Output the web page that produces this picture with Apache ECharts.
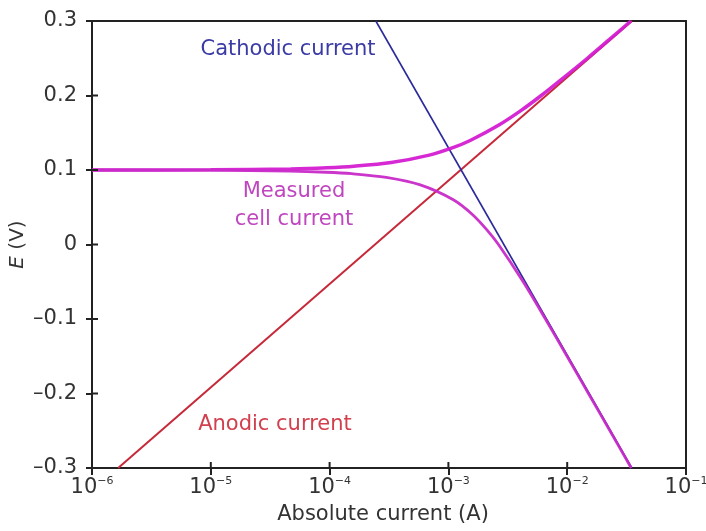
<!DOCTYPE html>
<html><head><meta charset="utf-8">
<script src="https://cdn.jsdelivr.net/npm/echarts@6/dist/echarts.min.js"></script>
<style>html,body{margin:0;padding:0;background:#fff}#c{width:706px;height:531px}</style>
</head><body><div id="c"></div>
<script>
// Tick labels / tick positions
const xTickExponents = [-6, -5, -4, -3, -2, -1];
const xTickValues = [1e-6, 1e-5, 1e-4, 1e-3, 1e-2, 1e-1];
const yTickValues = [-0.3, -0.2, -0.1, 0, 0.1, 0.2, 0.3];
const yTickLabels = {"-0.3":"–0.3","-0.2":"–0.2","-0.1":"–0.1","0":"0","0.1":"0.1","0.2":"0.2","0.3":"0.3"};

// Anodic (red) Tafel line: current (A), potential (V)
const anodicI = [1.66e-6, 3.5e-2];
const anodicE = [-0.3, 0.3];

// Cathodic (blue) Tafel line
const cathodicI = [2.45e-4, 3.5e-2];
const cathodicE = [0.3, -0.3];

// Measured cell current, upper (anodic) branch
const upperI = [1e-6, 1e-5, 4.7e-5, 9.5e-5, 1.6e-4, 3.3e-4, 6.9e-4, 1.09e-3, 1.54e-3, 2.64e-3, 4.1e-3, 6.05e-3, 8.7e-3, 1.48e-2, 2.26e-2, 3.44e-2];
const upperE = [0.1, 0.1003, 0.1015, 0.103, 0.105, 0.11, 0.12, 0.13, 0.14, 0.16, 0.18, 0.2, 0.22, 0.25, 0.275, 0.3];

// Measured cell current, lower (cathodic) branch
const lowerI = [1e-6, 1e-5, 4.6e-5, 9.3e-5, 1.54e-4, 3.0e-4, 5.8e-4, 1.1e-3, 1.6e-3, 2.1e-3, 2.64e-3, 4.26e-3, 6.56e-3, 9.97e-3, 1.51e-2, 2.29e-2, 3.46e-2];
const lowerE = [0.1, 0.0997, 0.0985, 0.097, 0.095, 0.09, 0.08, 0.06, 0.04, 0.02, 0, -0.05, -0.1, -0.15, -0.2, -0.25, -0.3];

const pairs = (a, b) => a.map((v, i) => [v, b[i]]);
const FONT = 'DejaVu Sans';
const X_MIN = 1e-6, Y_MIN = -0.3;

const chart = echarts.init(document.getElementById('c'), null, {renderer: 'canvas'});
chart.setOption({
  backgroundColor: '#ffffff',
  animation: false,
  grid: {left: 92, right: 20, top: 21, bottom: 63, outerBoundsMode: 'none', containLabel: false,
         show: true, borderColor: '#222', borderWidth: 2, backgroundColor: 'transparent'},
  xAxis: {
    type: 'log', logBase: 10, min: 1e-6, max: 1e-1,
    splitLine: {show: false}, minorTick: {show: false},
    name: 'Absolute current (A)', nameLocation: 'middle', nameGap: 36, nameMoveOverlap: false,
    nameTextStyle: {fontFamily: FONT, fontSize: 21, color: '#333', padding: [0, 12, 0, 0]},
    axisLine: {show: true, onZero: false, lineStyle: {color: '#222', width: 2}},
    axisTick: {show: true, inside: false, length: 7, lineStyle: {color: '#222', width: 2}},
    axisLabel: {
      margin: 8,
      formatter: function (v) {
        const e = Math.round(Math.log10(v));
        const idx = xTickExponents.indexOf(e);
        if (idx < 0) return '';
        return '{a|10}{b|−' + (-xTickExponents[idx]) + '}';
      },
      rich: {
        a: {fontFamily: FONT, fontSize: 21, color: '#333'},
        b: {fontFamily: FONT, fontSize: 11, color: '#333', padding: [0, 0, 12, 0]}
      }
    }
  },
  yAxis: {
    type: 'value', min: -0.3, max: 0.3, interval: 0.1,
    splitLine: {show: false},
    name: '{i|E}{n| (V)}', nameLocation: 'middle', nameGap: 64, nameRotate: 90, nameMoveOverlap: false,
    nameTextStyle: {
      rich: {
        i: {fontFamily: FONT, fontSize: 20, fontStyle: 'italic', color: '#333'},
        n: {fontFamily: FONT, fontSize: 20, color: '#333'}
      }
    },
    axisLine: {show: true, onZero: false, lineStyle: {color: '#222', width: 2}},
    axisTick: {show: true, inside: false, length: 6, lineStyle: {color: '#222', width: 2}},
    axisLabel: {
      margin: 15, fontFamily: FONT, fontSize: 21, color: '#333',
      formatter: function (v) {
        const k = String(Math.round(v * 10) / 10);
        return yTickLabels[k] !== undefined ? yTickLabels[k] : '';
      }
    }
  },
  series: [
    {type: 'line', name: 'Anodic', data: pairs(anodicI, anodicE), showSymbol: false, symbol: 'none',
     lineStyle: {color: '#c62a3a', width: 2}, z: 3},
    {type: 'line', name: 'Cathodic', data: pairs(cathodicI, cathodicE), showSymbol: false, symbol: 'none',
     lineStyle: {color: '#2a2a9c', width: 1.6}, z: 3},
    {type: 'line', name: 'Measured upper', data: pairs(upperI, upperE), smooth: 0.3, showSymbol: false, symbol: 'none',
     lineStyle: {color: '#d41ed2', width: 3.5, opacity: 0.95}, z: 4},
    {type: 'line', name: 'Measured lower', data: pairs(lowerI, lowerE), smooth: 0.3, showSymbol: false, symbol: 'none',
     lineStyle: {color: '#c82ac8', width: 2.8, opacity: 0.95}, z: 4}
  ]
});

// Inner halves of the crossing tick marks, placed through the chart's own scales
const graphics = [];
xTickValues.forEach(function (v) {
  const p = chart.convertToPixel({gridIndex: 0}, [v, Y_MIN]);
  graphics.push({type: 'line', z: 100, silent: true, shape: {x1: p[0], y1: p[1], x2: p[0], y2: p[1] - 6}, style: {stroke: '#222', lineWidth: 2}});
});
yTickValues.forEach(function (v) {
  const p = chart.convertToPixel({gridIndex: 0}, [X_MIN, v]);
  graphics.push({type: 'line', z: 100, silent: true, shape: {x1: p[0], y1: p[1], x2: p[0] + 6, y2: p[1]}, style: {stroke: '#222', lineWidth: 2}});
});
graphics.push(
  {type: 'text', x: 288, y: 50, style: {text: 'Cathodic current', fontFamily: FONT, fontSize: 21, fill: '#3b3ba6', align: 'center', verticalAlign: 'middle'}},
  {type: 'text', x: 294, y: 206, style: {text: 'Measured\ncell current', fontFamily: FONT, fontSize: 21, lineHeight: 28, fill: '#c046c0', align: 'center', verticalAlign: 'middle'}},
  {type: 'text', x: 275, y: 425, style: {text: 'Anodic current', fontFamily: FONT, fontSize: 21, fill: '#d2404e', align: 'center', verticalAlign: 'middle'}}
);
chart.setOption({graphic: graphics});
</script>
</body></html>
